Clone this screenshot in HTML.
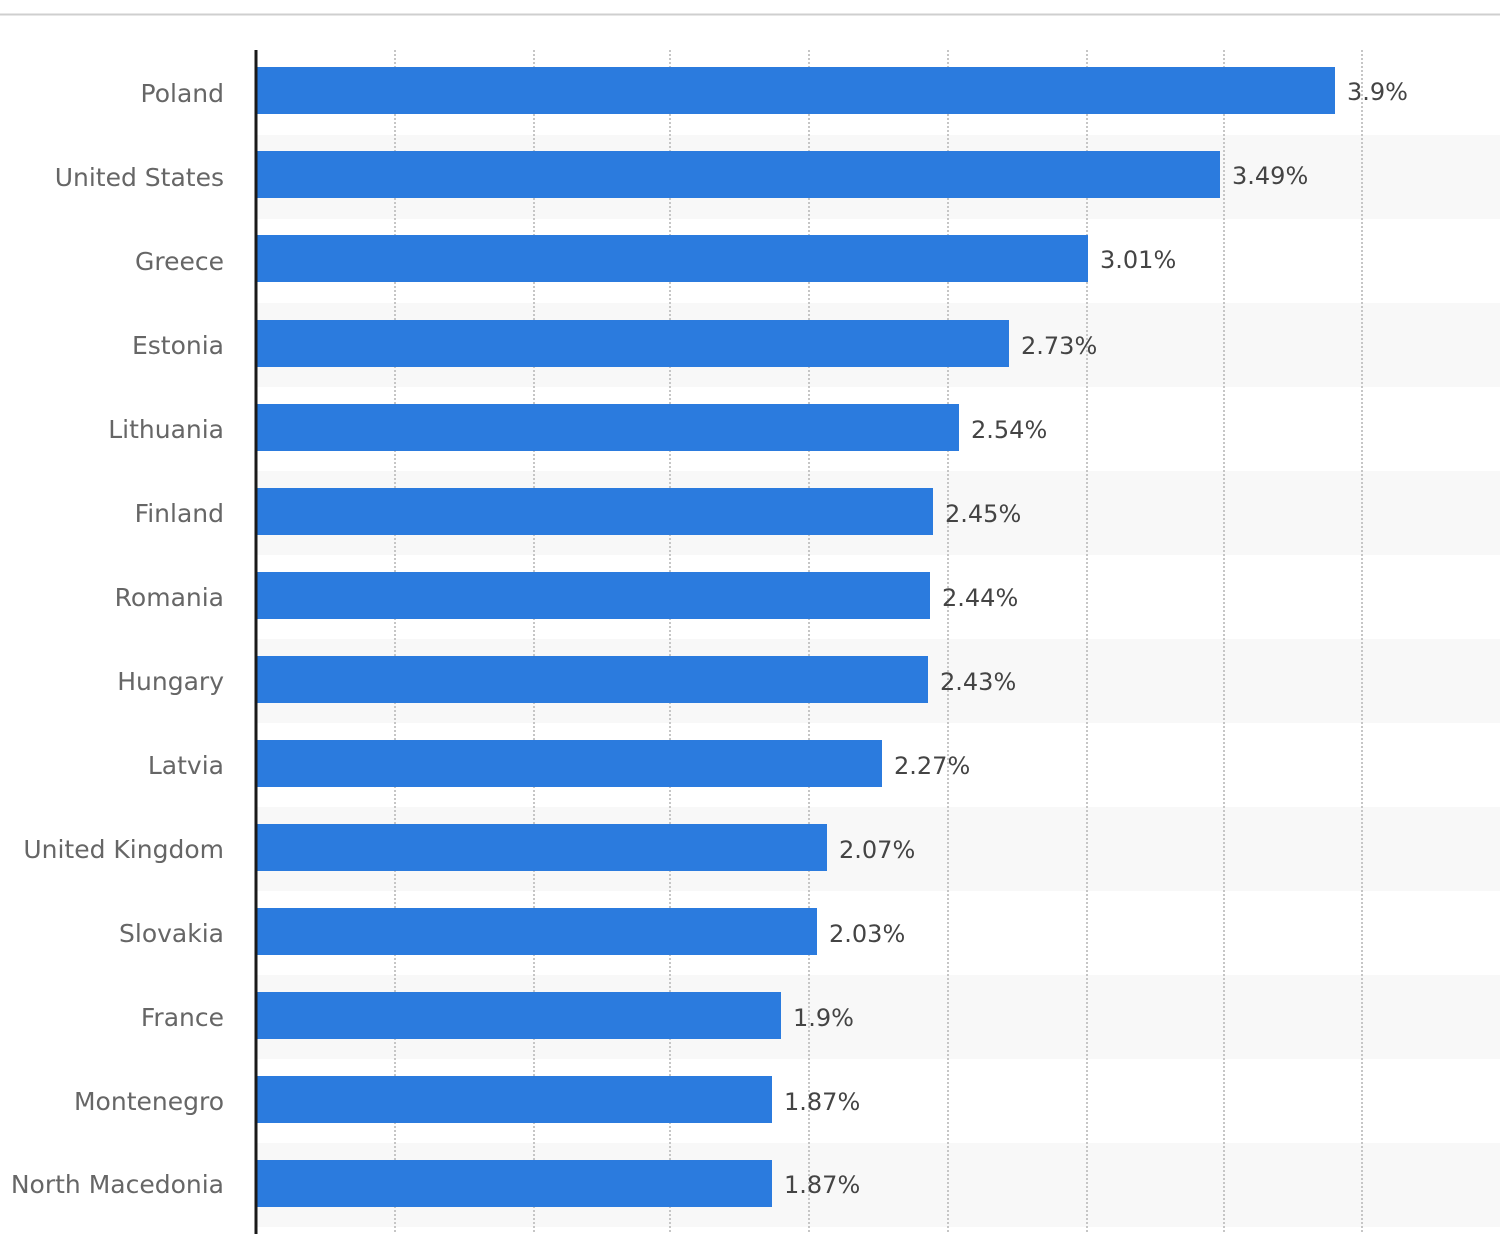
<!DOCTYPE html>
<html><head><meta charset="utf-8"><style>
html,body{margin:0;padding:0;background:#fff;}
svg{display:block;}
.lab{font-family:"DejaVu Sans","Liberation Sans",sans-serif;font-size:25px;fill:#666;text-anchor:end;}
.val{font-family:"DejaVu Sans","Liberation Sans",sans-serif;font-size:24px;fill:#444;}
</style></head><body>
<svg width="1500" height="1234" viewBox="0 0 1500 1234" xmlns="http://www.w3.org/2000/svg">
<rect x="0" y="0" width="1500" height="1234" fill="#fff"/>
<rect x="0" y="13.5" width="1500" height="2" fill="#cfcfcf"/>
<!-- bands -->
<g fill="#f8f8f8">
<rect x="257" y="135" width="1243" height="84"/>
<rect x="257" y="303" width="1243" height="84"/>
<rect x="257" y="471" width="1243" height="84"/>
<rect x="257" y="639" width="1243" height="84"/>
<rect x="257" y="807" width="1243" height="84"/>
<rect x="257" y="975" width="1243" height="84"/>
<rect x="257" y="1143" width="1243" height="84"/>
</g>
<!-- gridlines -->
<g stroke="#c6c6c6" stroke-width="2" stroke-dasharray="2 2">
<line x1="395" y1="50" x2="395" y2="1234"/>
<line x1="534" y1="50" x2="534" y2="1234"/>
<line x1="670" y1="50" x2="670" y2="1234"/>
<line x1="809" y1="50" x2="809" y2="1234"/>
<line x1="948" y1="50" x2="948" y2="1234"/>
<line x1="1087" y1="50" x2="1087" y2="1234"/>
<line x1="1224" y1="50" x2="1224" y2="1234"/>
<line x1="1362" y1="50" x2="1362" y2="1234"/>
</g>
<!-- bars -->
<g fill="#2b7bde">
<rect x="257" y="67" width="1078" height="47"/>
<rect x="257" y="151" width="963" height="47"/>
<rect x="257" y="235" width="831" height="47"/>
<rect x="257" y="320" width="752" height="47"/>
<rect x="257" y="404" width="702" height="47"/>
<rect x="257" y="488" width="676" height="47"/>
<rect x="257" y="572" width="673" height="47"/>
<rect x="257" y="656" width="671" height="47"/>
<rect x="257" y="740" width="625" height="47"/>
<rect x="257" y="824" width="570" height="47"/>
<rect x="257" y="908" width="560" height="47"/>
<rect x="257" y="992" width="524" height="47"/>
<rect x="257" y="1076" width="515" height="47"/>
<rect x="257" y="1160" width="515" height="47"/>
</g>
<!-- axis -->
<rect x="254.5" y="50" width="3" height="1184" fill="#1a1a1a"/>
<!-- category labels -->
<text class="lab" x="224" y="102">Poland</text>
<text class="lab" x="224" y="186">United States</text>
<text class="lab" x="224" y="270">Greece</text>
<text class="lab" x="224" y="354">Estonia</text>
<text class="lab" x="224" y="438">Lithuania</text>
<text class="lab" x="224" y="522">Finland</text>
<text class="lab" x="224" y="606">Romania</text>
<text class="lab" x="224" y="690">Hungary</text>
<text class="lab" x="224" y="774">Latvia</text>
<text class="lab" x="224" y="858">United Kingdom</text>
<text class="lab" x="224" y="942">Slovakia</text>
<text class="lab" x="224" y="1026">France</text>
<text class="lab" x="224" y="1110">Montenegro</text>
<text class="lab" x="224" y="1193">North Macedonia</text>
<!-- value labels -->
<text class="val" x="1347" y="100">3.9%</text>
<text class="val" x="1232" y="184">3.49%</text>
<text class="val" x="1100" y="268">3.01%</text>
<text class="val" x="1021" y="354">2.73%</text>
<text class="val" x="971" y="438">2.54%</text>
<text class="val" x="945" y="522">2.45%</text>
<text class="val" x="942" y="606">2.44%</text>
<text class="val" x="940" y="690">2.43%</text>
<text class="val" x="894" y="774">2.27%</text>
<text class="val" x="839" y="858">2.07%</text>
<text class="val" x="829" y="942">2.03%</text>
<text class="val" x="793" y="1026">1.9%</text>
<text class="val" x="784" y="1110">1.87%</text>
<text class="val" x="784" y="1193">1.87%</text>
</svg>
</body></html>
